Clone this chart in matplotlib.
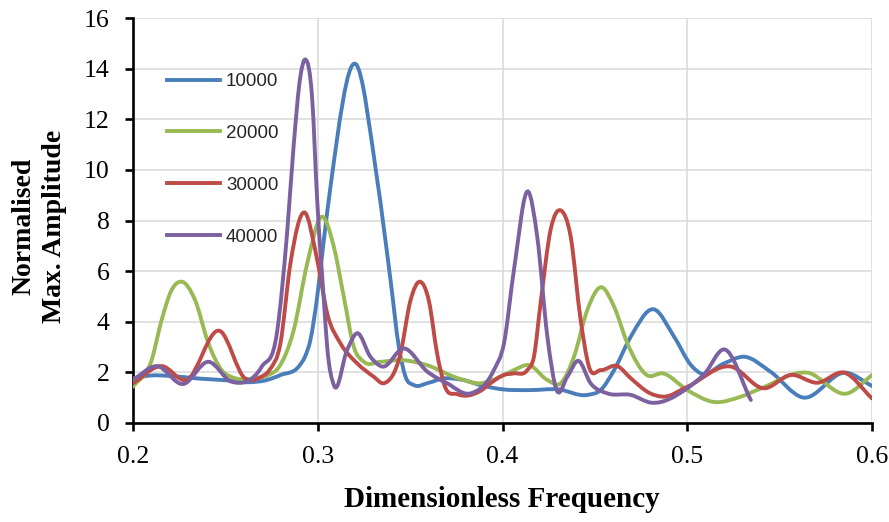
import matplotlib.pyplot as plt
from matplotlib.path import Path
from matplotlib.patches import PathPatch
from matplotlib.lines import Line2D

# values
freq_10000 = [0.200, 0.210, 0.220, 0.235, 0.250, 0.262, 0.272, 0.280, 0.290, 0.293,
              0.296, 0.2997, 0.3033, 0.3069, 0.3204, 0.3322, 0.3394, 0.3439, 0.3475,
              0.352, 0.360, 0.368, 0.378, 0.390, 0.400, 0.415, 0.430, 0.446, 0.4531,
              0.4604, 0.4694, 0.4817, 0.4929, 0.502, 0.5073, 0.520, 0.5308, 0.545,
              0.5624, 0.586, 0.600]
amp_10000 = [1.75, 1.87, 1.85, 1.75, 1.68, 1.60, 1.68, 1.89, 2.25, 2.60,
             3.27, 4.98, 7.23, 9.34, 14.2, 9.6, 5.64, 3.0, 1.82,
             1.49, 1.58, 1.75, 1.70, 1.45, 1.32, 1.29, 1.32, 1.10, 1.29,
             2.08, 3.40, 4.49, 3.40, 2.28, 1.95, 2.35, 2.61, 2.02,
             1.00, 1.98, 1.45]

freq_20000 = [0.200, 0.2101, 0.2155, 0.2209, 0.2263, 0.2336, 0.2408, 0.248, 0.2553,
              0.2661, 0.2733, 0.279, 0.287, 0.2943, 0.3024, 0.3087, 0.3141, 0.3195,
              0.325, 0.334, 0.3448, 0.359, 0.3755, 0.388, 0.399, 0.4062, 0.4143,
              0.4243, 0.4315, 0.4387, 0.4459, 0.4535, 0.4604, 0.4676, 0.478, 0.487,
              0.500, 0.5145, 0.529, 0.540, 0.565, 0.5868, 0.600]
amp_20000 = [1.42, 2.48, 4.06, 5.25, 5.58, 4.85, 3.14, 2.08, 1.76,
             1.76, 1.89, 2.20, 3.67, 6.30, 8.15, 6.96, 4.98, 3.00,
             2.41, 2.41, 2.48, 2.28, 1.77, 1.56, 1.82, 2.08, 2.28,
             1.69, 1.56, 2.61, 4.46, 5.36, 4.59, 3.14, 1.89, 1.95,
             1.29, 0.82, 1.03, 1.36, 1.98, 1.16, 1.89]

freq_30000 = [0.200, 0.2155, 0.229, 0.2471, 0.2607, 0.269, 0.274, 0.2798, 0.2852,
              0.2928, 0.2997, 0.3051, 0.3123, 0.3213, 0.3303, 0.3358, 0.3448, 0.3502,
              0.3553, 0.3601, 0.3647, 0.3685, 0.3755, 0.3879, 0.3935, 0.4007, 0.4062,
              0.4134, 0.417, 0.4206, 0.426, 0.4318, 0.4369, 0.4423, 0.4468, 0.4531,
              0.4622, 0.4694, 0.480, 0.4874, 0.500, 0.5237, 0.5416, 0.556, 0.5705,
              0.585, 0.600]
amp_30000 = [1.56, 2.24, 1.69, 3.63, 1.75, 1.80, 2.10, 3.14, 6.30,
             8.32, 6.44, 4.33, 3.14, 2.35, 1.82, 1.56, 2.74, 4.84,
             5.58, 4.84, 2.70, 1.50, 1.13, 1.25, 1.56, 1.89, 1.95,
             2.08, 2.61, 4.72, 7.62, 8.39, 7.36, 4.06, 2.22, 2.08,
             2.24, 1.76, 1.16, 1.03, 1.42, 2.22, 1.36, 1.89, 1.58,
             1.98, 0.96]

freq_40000 = [0.200, 0.2128, 0.2272, 0.2408, 0.2534, 0.2697, 0.278, 0.2834, 0.287,
              0.2906, 0.2933, 0.297, 0.2997, 0.3033, 0.3051, 0.3087, 0.3159, 0.3213,
              0.3285, 0.3349, 0.3466, 0.3593, 0.370, 0.3827, 0.3953, 0.4008, 0.4062,
              0.414, 0.4188, 0.4243, 0.4293, 0.4351, 0.441, 0.4477, 0.4568, 0.4694,
              0.4807, 0.500, 0.5095, 0.520, 0.5344]
amp_40000 = [1.70, 2.24, 1.53, 2.41, 1.62, 2.22, 3.60, 7.50, 11.0,
             13.7, 14.37, 12.8, 8.8, 4.85, 3.00, 1.49, 2.88, 3.54,
             2.61, 2.22, 2.94, 2.02, 1.56, 1.16, 2.08, 3.14, 6.04,
             9.14, 7.36, 3.40, 1.29, 1.82, 2.45, 1.56, 1.16, 1.10,
             0.79, 1.36, 1.95, 2.90, 0.90]

series = [
    ("10000", freq_10000, amp_10000, "#4A7EBB"),
    ("20000", freq_20000, amp_20000, "#98B954"),
    ("30000", freq_30000, amp_30000, "#BE4B48"),
    ("40000", freq_40000, amp_40000, "#7D60A0"),
]

serif = ["Liberation Serif", "DejaVu Serif"]
sans = ["Liberation Sans", "DejaVu Sans"]
LW = 2.8


def smooth_path(x, y):
    # smoothed line: cubic hermite segments (as bezier) through every point
    n = len(x)
    h = [x[i + 1] - x[i] for i in range(n - 1)]
    d = [(y[i + 1] - y[i]) / h[i] for i in range(n - 1)]
    m = [d[0]]
    for i in range(1, n - 1):
        m.append((d[i - 1] * h[i] + d[i] * h[i - 1]) / (h[i - 1] + h[i]))
    m.append(d[-1])
    verts = [(x[0], y[0])]
    codes = [Path.MOVETO]
    for i in range(n - 1):
        c1 = (x[i] + h[i] / 3, y[i] + m[i] * h[i] / 3)
        c2 = (x[i + 1] - h[i] / 3, y[i + 1] - m[i + 1] * h[i] / 3)
        verts += [c1, c2, (x[i + 1], y[i + 1])]
        codes += [Path.CURVE4] * 3
    return Path(verts, codes)


fig = plt.figure(figsize=(8.89, 5.22), dpi=100)
ax = fig.add_axes([133 / 889, 1 - 422.7 / 522, 739 / 889, 404.4 / 522])

handles = []
for name, fx, fy, col in series:
    patch = PathPatch(smooth_path(fx, fy), facecolor="none", edgecolor=col,
                      linewidth=LW, capstyle="round", joinstyle="round", zorder=3)
    ax.add_patch(patch)
    handles.append(Line2D([], [], color=col, linewidth=LW, label=name))

ax.set_xlim(0.2, 0.6)
ax.set_ylim(0, 16)
ax.set_xticks([0.2, 0.3, 0.4, 0.5, 0.6])
ax.set_xticklabels(["0.2", "0.3", "0.4", "0.5", "0.6"])
ax.set_yticks(range(0, 17, 2))
ax.grid(True, color="#D9D9D9", linewidth=1.1, zorder=0)
ax.set_axisbelow(True)
for s in ["top", "right"]:
    ax.spines[s].set_visible(False)
for s in ["left", "bottom"]:
    ax.spines[s].set_linewidth(1.9)
    ax.spines[s].set_color("black")
ax.tick_params(axis="both", direction="out", length=6, width=1.9, colors="black")
ax.tick_params(axis="y", pad=11)
ax.tick_params(axis="x", pad=11)
for lab in ax.get_xticklabels() + ax.get_yticklabels():
    lab.set_family(serif)
    lab.set_fontsize(18.5)

leg = ax.legend(handles=handles, loc="upper left",
                bbox_to_anchor=((166.7 - 132.7) / 739, (422.7 - 73) / 404.4),
                frameon=False, borderpad=0, borderaxespad=0,
                handlelength=2.85, handletextpad=0.3, labelspacing=1.85,
                prop={"family": sans, "size": 13.5})
for t in leg.get_texts():
    t.set_color("#262626")

fig.text(502 / 889, 1 - 507 / 522, "Dimensionless Frequency", ha="center",
         va="baseline", fontsize=21, fontweight="bold", family=serif)
fig.text(39 / 889, 1 - 226 / 522, "Normalised\nMax. Amplitude", ha="center",
         va="center", rotation=90, fontsize=20, fontweight="bold", family=serif,
         linespacing=1.3, multialignment="center")

fig.savefig("out.png", dpi=100)
